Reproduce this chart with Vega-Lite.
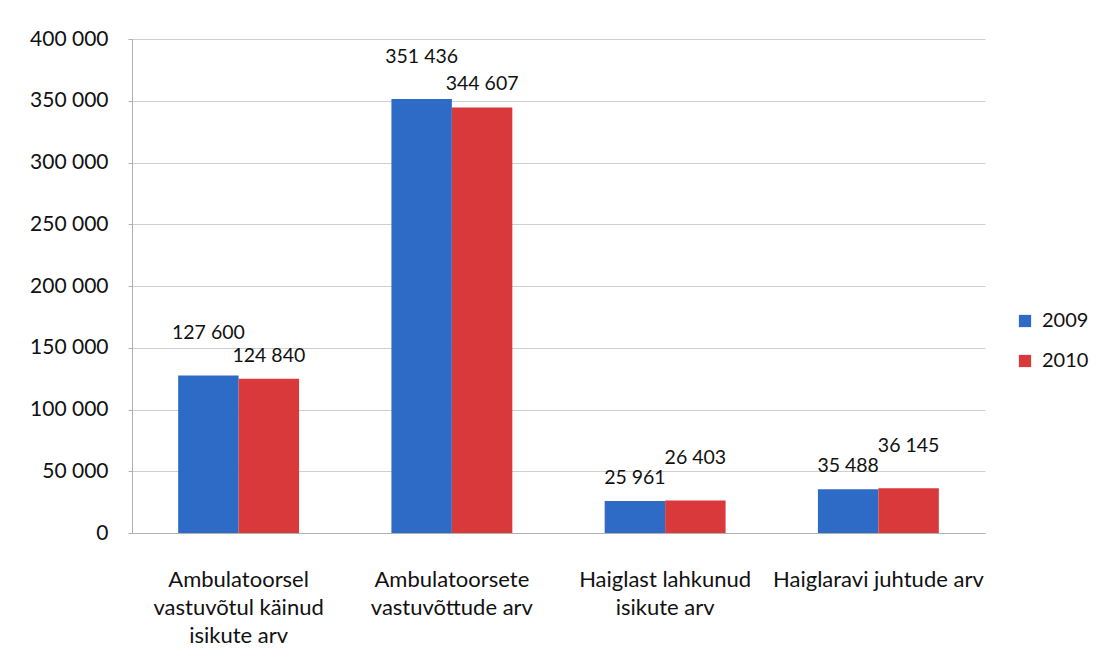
{
  "$schema": "https://vega.github.io/schema/vega-lite/v6.json",
  "width": 853,
  "height": 494,
  "autosize": {"type": "none"},
  "padding": {"left": 132, "top": 39, "right": 111, "bottom": 132},
  "background": "white",
  "config": {
    "font": "Lato",
    "locale": {"number": {"decimal": ",", "thousands": " ", "grouping": [3], "currency": ["", ""]}},
    "view": {"stroke": null}
  },
  "data": {
    "values": [
      {"category": "Ambulatoorsel vastuvõtul käinud isikute arv", "year": "2009", "value": 127600},
      {"category": "Ambulatoorsel vastuvõtul käinud isikute arv", "year": "2010", "value": 124840},
      {"category": "Ambulatoorsete vastuvõttude arv", "year": "2009", "value": 351436},
      {"category": "Ambulatoorsete vastuvõttude arv", "year": "2010", "value": 344607},
      {"category": "Haiglast lahkunud isikute arv", "year": "2009", "value": 25961},
      {"category": "Haiglast lahkunud isikute arv", "year": "2010", "value": 26403},
      {"category": "Haiglaravi juhtude arv", "year": "2009", "value": 35488},
      {"category": "Haiglaravi juhtude arv", "year": "2010", "value": 36145}
    ]
  },
  "encoding": {
    "x": {
      "field": "category",
      "type": "nominal",
      "sort": null,
      "scale": {"paddingInner": 0.433, "paddingOuter": 0.2165},
      "axis": {
        "title": null,
        "labelAngle": 0,
        "labelFontSize": 22,
        "labelColor": "#111111",
        "labelLineHeight": 28,
        "labelBaseline": "top",
        "labelPadding": 36,
        "labelLimit": 300,
        "ticks": false,
        "domainColor": "#b0b0b0",
        "labelExpr": "datum.label == 'Ambulatoorsel vastuvõtul käinud isikute arv' ? ['Ambulatoorsel', 'vastuvõtul käinud', 'isikute arv'] : datum.label == 'Ambulatoorsete vastuvõttude arv' ? ['Ambulatoorsete', 'vastuvõttude arv'] : datum.label == 'Haiglast lahkunud isikute arv' ? ['Haiglast lahkunud', 'isikute arv'] : datum.label"
      }
    },
    "xOffset": {"field": "year", "type": "nominal"},
    "y": {
      "field": "value",
      "type": "quantitative",
      "scale": {"domain": [0, 400000], "nice": false},
      "axis": {
        "title": null,
        "values": [0, 50000, 100000, 150000, 200000, 250000, 300000, 350000, 400000],
        "format": ",.0f",
        "labelFontSize": 21,
        "labelColor": "#111111",
        "labelPadding": 20,
        "tickSize": 4,
        "tickColor": "#b0b0b0",
        "domainColor": "#b0b0b0",
        "gridColor": "#cfcfcf"
      }
    }
  },
  "layer": [
    {
      "mark": {"type": "bar"},
      "encoding": {
        "color": {
          "field": "year",
          "type": "nominal",
          "scale": {"domain": ["2009", "2010"], "range": ["#2e6bc6", "#d9393b"]},
          "legend": {
            "title": null,
            "orient": "none",
            "legendX": 883,
            "legendY": 272,
            "symbolType": "square",
            "symbolSize": 150,
            "symbolStrokeWidth": 0,
            "labelFontSize": 20,
            "labelColor": "#111111",
            "labelOffset": 7,
            "rowPadding": 20
          }
        }
      }
    },
    {
      "transform": [
        {"joinaggregate": [{"op": "max", "field": "value", "as": "maxv"}], "groupby": ["category"]},
        {"filter": "datum.value == datum.maxv"}
      ],
      "mark": {"type": "text", "dy": -42, "fontSize": 19.5, "color": "#111111"},
      "encoding": {
        "text": {"field": "value", "type": "quantitative", "format": ",.0f"}
      }
    },
    {
      "transform": [
        {"joinaggregate": [{"op": "max", "field": "value", "as": "maxv"}], "groupby": ["category"]},
        {"filter": "datum.value != datum.maxv"}
      ],
      "mark": {"type": "text", "dy": -23, "fontSize": 19.5, "color": "#111111"},
      "encoding": {
        "text": {"field": "value", "type": "quantitative", "format": ",.0f"}
      }
    }
  ]
}
